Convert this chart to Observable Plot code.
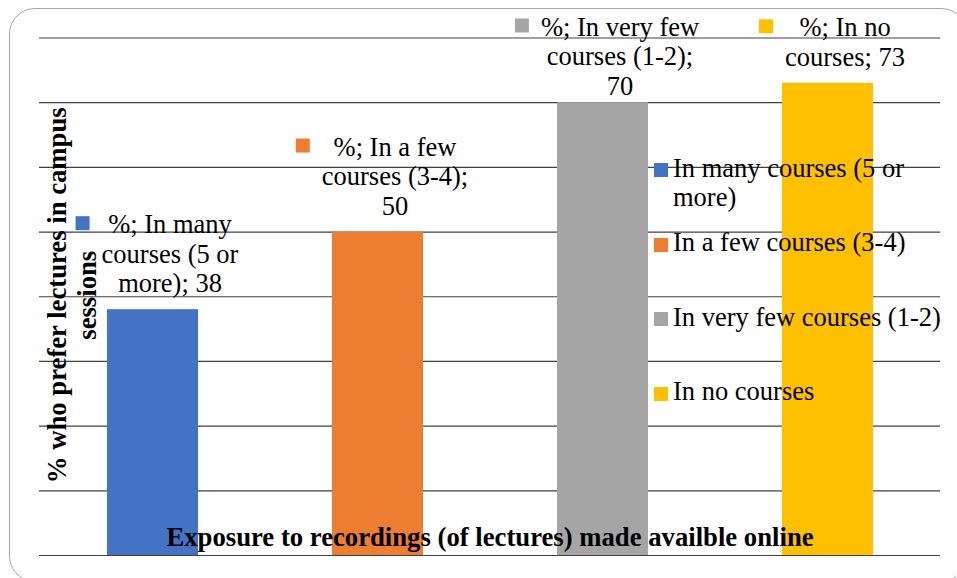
<!DOCTYPE html>
<html><head><meta charset="utf-8">
<script src="https://cdn.jsdelivr.net/npm/d3@7"></script>
<script src="https://cdn.jsdelivr.net/npm/@observablehq/plot@0.6"></script>
<style>
html,body{margin:0;padding:0;background:#fff;overflow:hidden}
#wrap{position:relative;width:957px;height:578px;overflow:hidden}
#frame{position:absolute;left:9px;top:8px;width:958px;height:574px;border:1.5px solid #a6a6a6;border-radius:26px;box-sizing:border-box}
#wrap svg{position:absolute;left:0;top:0}
#legend{position:absolute;left:654px;top:0;width:300px;font-family:"Liberation Serif","Times New Roman",serif;font-size:26.5px;color:#000}
.item{position:absolute;left:0;display:flex;align-items:flex-start;line-height:29px;width:300px}
.sw{width:14px;height:14px;flex:none;margin-top:9.5px;margin-right:5px}
.tx{width:280px}
</style></head><body><div id="wrap"><div id="frame"></div></div>
<script>
const categories = ["In many courses (5 or more)", "In a few courses (3-4)", "In very few courses (1-2)", "In no courses"];
const values = [38, 50, 70, 73];
const colors = ["#4472C4", "#ED7D31", "#A5A5A5", "#FFC000"];
const labelTexts = ["%; In many\ncourses (5 or\nmore); 38", "%; In a few\ncourses (3-4);\n50", "%; In very few\ncourses (1-2);\n70", "%; In no\ncourses; 73"];
const yTicks = [0, 10, 20, 30, 40, 50, 60, 70, 80];
const xTitle = "Exposure to recordings (of lectures) made availble online";
const yTitle = "% who prefer lectures in campus\nsessions";

const W = 957, H = 578, mL = 39, mR = 17, mT = 37.5, mB = 23;
const FONT = '"Liberation Serif","Times New Roman",serif';
const FS = 26.5, FSB = 26.7, LH = 29.5;

const data = categories.map((c, i) => ({name: c, value: values[i], color: colors[i], label: labelTexts[i]}));

// mirror of the y scale to keep labels inside the chart area
const yPix = d3.scaleLinear().domain([0, 80]).range([H - mB, mT]);
const ctx = document.createElement("canvas").getContext("2d");
ctx.font = `${FS}px "Liberation Serif"`;
data.forEach(d => {
  const lines = d.label.split("\n");
  d.n = lines.length;
  d.maxW = d3.max(lines, l => ctx.measureText(l).width);
  const limit = yPix.invert(35 + 17.5 + (d.n - 1) * LH);
  d.labelY = Math.min(d.value, limit);
});

const dxText = 17;
const marks = [
  Plot.ruleY(yTicks, {stroke: "#404040", strokeWidth: 1.2}),
  Plot.barY(data, {x: "name", y: "value", fill: "color"}),
  Plot.text(data, {x: "name", y: "labelY", text: "label", dx: dxText, dy: -17.5, lineAnchor: "bottom",
    lineHeight: LH / FS, fontSize: FS, fontFamily: FONT, fill: "#000"}),
  ...data.map(d => Plot.dot([d], {x: "name", y: "labelY", symbol: "square", r: 14 / Math.sqrt(Math.PI),
    fill: "color", stroke: null,
    dx: dxText - d.maxW / 2 - 19, dy: -17.5 - (d.n - 1) * LH - 10})),
  Plot.text([xTitle], {frameAnchor: "bottom", lineAnchor: "bottom", dy: -10, fontSize: FSB, fontWeight: "bold",
    fontFamily: FONT, fill: "#000"}),
  Plot.text([yTitle], {frameAnchor: "left", textAnchor: "middle", rotate: -90, lineAnchor: "bottom", dx: 56, dy: -1.5,
    lineHeight: LH / FSB, fontSize: FSB, fontWeight: "bold", fontFamily: FONT, fill: "#000"})
];

const chart = Plot.plot({
  width: W, height: H,
  marginLeft: mL, marginRight: mR, marginTop: mT, marginBottom: mB,
  style: {background: "transparent", overflow: "visible"},
  x: {domain: categories, paddingInner: 0.596, paddingOuter: 0.298, axis: null},
  y: {domain: [0, 80], axis: null},
  color: {type: "identity"},
  marks
});
document.getElementById("wrap").appendChild(chart);

// legend overlay
const legend = document.createElement("div");
legend.id = "legend";
data.forEach((d, i) => {
  const it = document.createElement("div");
  it.className = "item";
  it.style.top = (153.5 + i * 74.5) + "px";
  const sw = document.createElement("div");
  sw.className = "sw"; sw.style.background = d.color;
  const tx = document.createElement("div");
  tx.className = "tx"; tx.textContent = d.name;
  it.appendChild(sw); it.appendChild(tx);
  legend.appendChild(it);
});
document.getElementById("wrap").appendChild(legend);
</script></body></html>
